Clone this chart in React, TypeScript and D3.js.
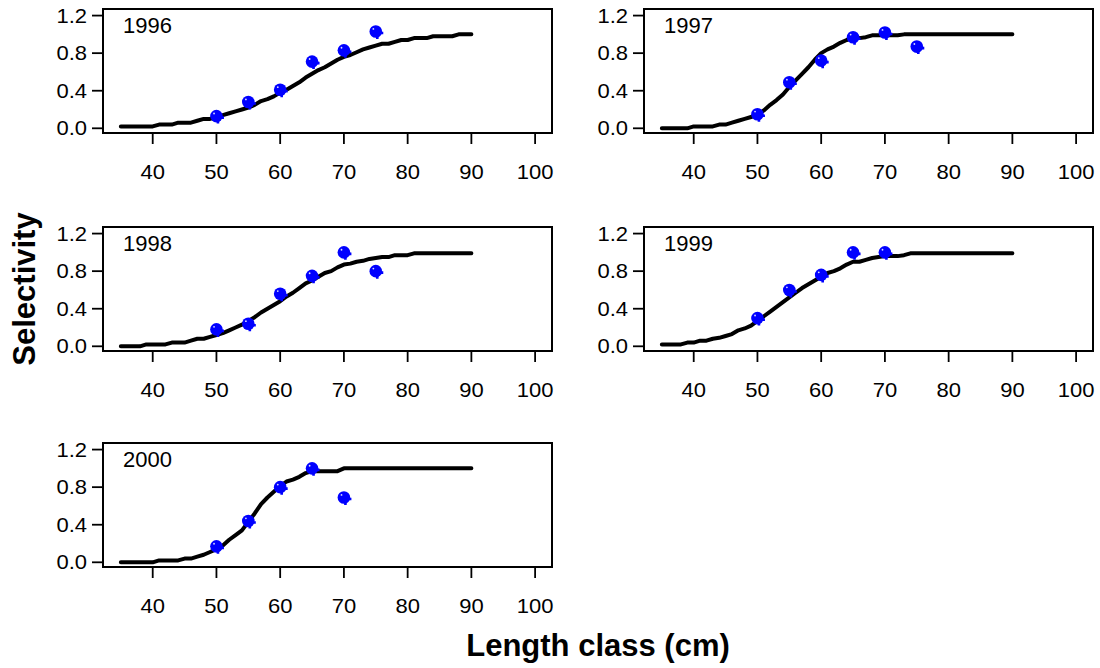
import React from 'react';
import * as d3 from 'd3';

// length classes (cm) for the fitted curves, 35..90
const curveLengths = [
  35, 36, 37, 38, 39, 40, 41, 42, 43, 44, 45, 46, 47, 48, 49, 50, 51, 52, 53, 54,
  55, 56, 57, 58, 59, 60, 61, 62, 63, 64, 65, 66, 67, 68, 69, 70, 71, 72, 73, 74,
  75, 76, 77, 78, 79, 80, 81, 82, 83, 84, 85, 86, 87, 88, 89, 90,
];

const fit1996 = [
  0.02, 0.02, 0.02, 0.02, 0.02, 0.02, 0.04, 0.04, 0.04, 0.06, 0.06, 0.06, 0.08, 0.10, 0.10, 0.12, 0.14, 0.16, 0.18, 0.20,
  0.22, 0.25, 0.29, 0.31, 0.34, 0.38, 0.41, 0.45, 0.49, 0.54, 0.58, 0.62, 0.65, 0.69, 0.73, 0.76, 0.78, 0.81, 0.84, 0.86,
  0.88, 0.90, 0.90, 0.92, 0.94, 0.94, 0.96, 0.96, 0.96, 0.98, 0.98, 0.98, 0.98, 1.00, 1.00, 1.00,
];
const fit1997 = [
  0.00, 0.00, 0.00, 0.00, 0.00, 0.02, 0.02, 0.02, 0.02, 0.04, 0.04, 0.06, 0.08, 0.10, 0.12, 0.14, 0.19, 0.25, 0.30, 0.36,
  0.44, 0.51, 0.58, 0.65, 0.73, 0.80, 0.84, 0.87, 0.91, 0.94, 0.96, 0.96, 0.97, 0.99, 0.99, 0.99, 0.99, 0.99, 1.00, 1.00,
  1.00, 1.00, 1.00, 1.00, 1.00, 1.00, 1.00, 1.00, 1.00, 1.00, 1.00, 1.00, 1.00, 1.00, 1.00, 1.00,
];
const fit1998 = [
  0.00, 0.00, 0.00, 0.00, 0.02, 0.02, 0.02, 0.02, 0.04, 0.04, 0.04, 0.06, 0.08, 0.08, 0.10, 0.12, 0.14, 0.17, 0.20, 0.23,
  0.27, 0.31, 0.36, 0.40, 0.44, 0.48, 0.53, 0.57, 0.62, 0.67, 0.70, 0.74, 0.78, 0.80, 0.84, 0.87, 0.88, 0.90, 0.91, 0.93,
  0.94, 0.95, 0.95, 0.97, 0.97, 0.97, 0.99, 0.99, 0.99, 0.99, 0.99, 0.99, 0.99, 0.99, 0.99, 0.99,
];
const fit1999 = [
  0.02, 0.02, 0.02, 0.02, 0.04, 0.04, 0.06, 0.06, 0.08, 0.09, 0.11, 0.13, 0.17, 0.19, 0.22, 0.27, 0.32, 0.37, 0.42, 0.47,
  0.52, 0.57, 0.62, 0.66, 0.70, 0.74, 0.78, 0.80, 0.83, 0.87, 0.90, 0.90, 0.92, 0.94, 0.95, 0.96, 0.96, 0.96, 0.97, 0.99,
  0.99, 0.99, 0.99, 0.99, 0.99, 0.99, 0.99, 0.99, 0.99, 0.99, 0.99, 0.99, 0.99, 0.99, 0.99, 0.99,
];
const fit2000 = [
  0.00, 0.00, 0.00, 0.00, 0.00, 0.00, 0.02, 0.02, 0.02, 0.02, 0.04, 0.04, 0.06, 0.08, 0.11, 0.14, 0.18, 0.24, 0.29, 0.34,
  0.43, 0.52, 0.62, 0.69, 0.75, 0.81, 0.86, 0.88, 0.91, 0.95, 0.97, 0.97, 0.97, 0.97, 0.97, 1.00, 1.00, 1.00, 1.00, 1.00,
  1.00, 1.00, 1.00, 1.00, 1.00, 1.00, 1.00, 1.00, 1.00, 1.00, 1.00, 1.00, 1.00, 1.00, 1.00, 1.00,
];

// observed selectivity by length class
const obsLengths = [50, 55, 60, 65, 70, 75];
const obs1996 = [0.13, 0.28, 0.41, 0.71, 0.83, 1.03];
const obs1997 = [0.15, 0.49, 0.72, 0.97, 1.02, 0.87];
const obs1998 = [0.18, 0.24, 0.56, 0.75, 1.0, 0.8];
const obs1999 = [0.3, 0.6, 0.76, 1.0, 1.0];
const obs2000 = [0.17, 0.44, 0.8, 1.0, 0.69];

const years = ['1996', '1997', '1998', '1999', '2000'];
const fits = [fit1996, fit1997, fit1998, fit1999, fit2000];
const observed = [obs1996, obs1997, obs1998, obs1999, obs2000];

const xTicks = [40, 50, 60, 70, 80, 90, 100];
const yTicks = [0, 0.4, 0.8, 1.2];

const colLeft = [103, 644];
const rowTop = [9, 227, 443];
const panelW = 449;
const panelH = 124;
const tickLen = 11;
const font = 'Liberation Sans, Arial, Helvetica, sans-serif';

const x = d3.scaleLinear().domain([32.2, 102.65]).range([0, panelW]);
const y = d3.scaleLinear().domain([-0.05, 1.27]).range([panelH, 0]);

function Panel({ idx }: { idx: number }) {
  const left = colLeft[idx % 2];
  const top = rowTop[Math.floor(idx / 2)];
  const line = d3
    .line<number>()
    .x((_, i) => x(curveLengths[i]))
    .y((d) => y(d));
  const pts = observed[idx];
  return (
    <g transform={`translate(${left},${top})`}>
      <rect x={0} y={0} width={panelW} height={panelH} fill="none" stroke="#000" strokeWidth={2} />
      {yTicks.map((t) => (
        <g key={'y' + t}>
          <line x1={-tickLen} x2={0} y1={y(t)} y2={y(t)} stroke="#000" strokeWidth={1.8} />
          <text
            transform={`translate(${-16},${y(t) + 7}) scale(1.1,1)`}
            textAnchor="end"
            fontSize={20}
            fontFamily={font}
          >
            {t.toFixed(1)}
          </text>
        </g>
      ))}
      {xTicks.map((t) => (
        <g key={'x' + t}>
          <line x1={x(t)} x2={x(t)} y1={panelH} y2={panelH + tickLen} stroke="#000" strokeWidth={1.8} />
          <text
            transform={`translate(${x(t)},${panelH + 46}) scale(1.1,1)`}
            textAnchor="middle"
            fontSize={20}
            fontFamily={font}
          >
            {t}
          </text>
        </g>
      ))}
      <path d={line(fits[idx]) || ''} fill="none" stroke="#000" strokeWidth={4} strokeLinejoin="round" strokeLinecap="round" />
      {pts.map((v, i) => {
        const cx = x(obsLengths[i]);
        const cy = y(v);
        return (
          <g key={'p' + i}>
            <path
              d={`M${cx - 4},${cy + 1.5}H${cx + 7.5}M${cx + 1.5},${cy - 4}V${cy + 7.5}`}
              stroke="#0000ff"
              strokeWidth={2.6}
            />
            <circle cx={cx} cy={cy} r={6.3} fill="#0000ff" />
            <circle cx={cx - 2.4} cy={cy - 2.6} r={0.9} fill="#ffffff" opacity={0.85} />
          </g>
        );
      })}
      <text x={20} y={24} fontSize={22} fontFamily={font}>
        {years[idx]}
      </text>
    </g>
  );
}

export default function App() {
  return (
    <svg
      width={1100}
      height={668}
      style={{ position: 'absolute', left: 0, top: 0, background: '#fff' }}
    >
      <rect width={1100} height={668} fill="#fff" />
      {years.map((_, i) => (
        <Panel key={i} idx={i} />
      ))}
      <text
        transform="translate(35,289) rotate(-90)"
        textAnchor="middle"
        fontSize={31}
        fontWeight="bold"
        fontFamily={font}
      >
        Selectivity
      </text>
      <text x={598} y={656} textAnchor="middle" fontSize={31} fontWeight="bold" fontFamily={font}>
        Length class (cm)
      </text>
    </svg>
  );
}
